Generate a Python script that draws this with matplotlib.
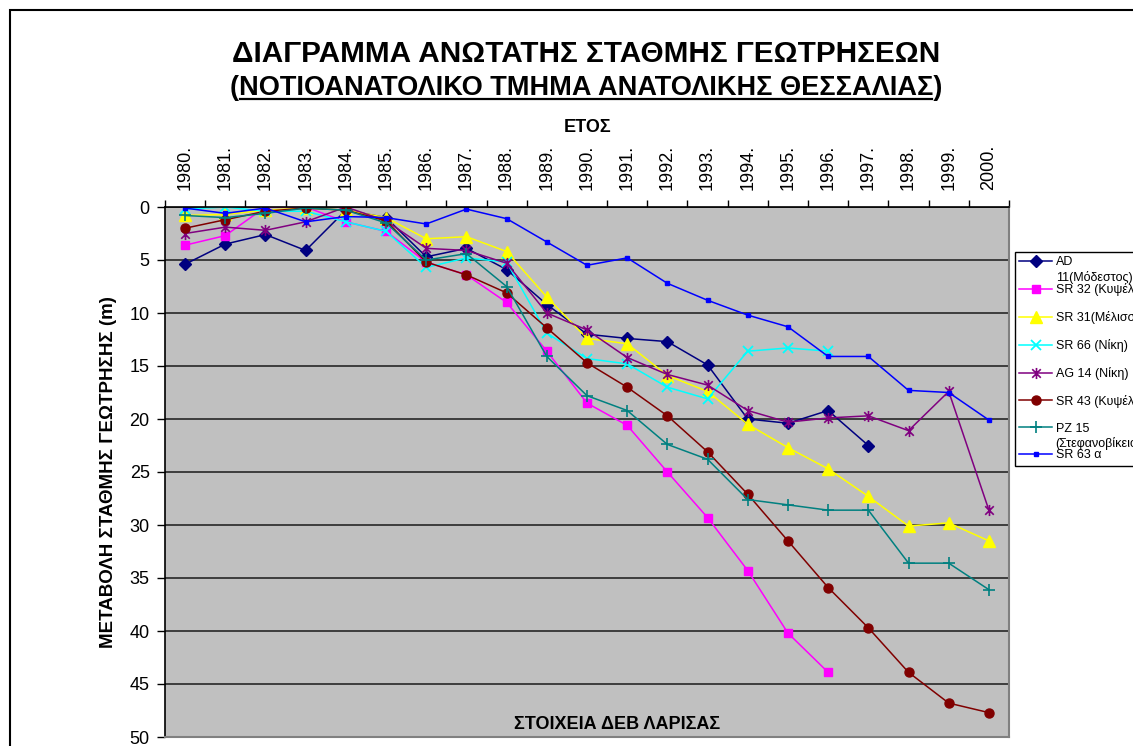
import numpy as np
import matplotlib
matplotlib.use("Agg")
import matplotlib.pyplot as plt
from matplotlib.path import Path
from matplotlib.lines import Line2D
from matplotlib.patches import Rectangle

plt.rcParams['font.family'] = ['Liberation Sans', 'DejaVu Sans']

nan = np.nan
years = [f"{y}." for y in range(1980, 2001)]

# depth change of groundwater level (m), one value per year 1980-2000
ad11 = [5.4, 3.5, 2.6, 4.1, 0.3, 1.0, 4.7, 3.9, 5.9, 9.2, 12.0, 12.4, 12.7, 14.9, 20.0, 20.4, 19.2, 22.5, nan, nan, nan]
sr32 = [3.6, 2.7, 0.0, 0.0, 1.4, 2.3, 5.2, 6.4, 9.0, 13.6, 18.5, 20.6, 25.0, 29.3, 34.3, 40.2, 43.9, nan, nan, nan, nan]
sr31 = [0.8, 0.7, 0.3, 0.1, 0.3, 1.0, 3.0, 2.8, 4.2, 8.5, 12.4, 12.9, 15.9, 17.4, 20.5, 22.7, 24.7, 27.3, 30.1, 29.8, 31.5]
sr66 = [0.2, 0.0, 0.4, 0.4, 1.4, 2.3, 5.7, 4.8, 5.2, 11.9, 14.3, 14.8, 17.0, 18.1, 13.6, 13.3, 13.6, nan, nan, nan, nan]
ag14 = [2.5, 1.9, 2.2, 1.4, 0.0, 1.3, 3.9, 4.1, 5.3, 10.0, 11.6, 14.2, 15.8, 16.8, 19.2, 20.3, 19.9, 19.7, 21.1, 17.4, 28.6]
sr43 = [2.0, 1.2, 0.4, 0.1, 0.3, 1.3, 5.2, 6.4, 8.1, 11.4, 14.7, 17.0, 19.7, 23.1, 27.1, 31.5, 35.9, 39.7, 43.9, 46.8, 47.7]
pz15 = [0.8, 1.0, 0.6, 0.1, 0.3, 1.5, 5.0, 4.4, 7.5, 14.1, 17.8, 19.2, 22.4, 23.8, 27.6, 28.1, 28.6, 28.6, 33.6, 33.6, 36.1]
sr63a = [0.1, 0.6, 0.1, 1.4, 0.9, 1.0, 1.6, 0.2, 1.1, 3.3, 5.5, 4.8, 7.2, 8.8, 10.2, 11.3, 14.1, 14.1, 17.3, 17.5, 20.1]

# legend text as wrapped in the original (first line, overflow line)
names = [("AD", "11(Μόδεστος)"), ("SR 32 (Κυψέλη)", ""), ("SR 31(Μέλισσα)", ""),
         ("SR 66 (Νίκη)", ""), ("AG 14 (Νίκη)", ""), ("SR 43 (Κυψέλη)", ""),
         ("PZ 15", "(Στεφανοβίκειο)"), ("SR 63 α", "")]

# excel style asterisk: x plus vertical bar
asterisk = Path([(-1, -1), (1, 1), (-1, 1), (1, -1), (0, -1.3), (0, 1.3)],
                [Path.MOVETO, Path.LINETO, Path.MOVETO, Path.LINETO, Path.MOVETO, Path.LINETO])

styles = [
    dict(color='#000080', marker='D', ms=6),
    dict(color='#FF00FF', marker='s', ms=6),
    dict(color='#FFFF00', marker='^', ms=8),
    dict(color='#00FFFF', marker='x', ms=7, mew=1.3),
    dict(color='#800080', marker=asterisk, ms=8, mew=1.2),
    dict(color='#800000', marker='o', ms=6.5),
    dict(color='#008080', marker='+', ms=8, mew=1.2),
    dict(color='#0000FF', marker='s', ms=3),
]
series = [ad11, sr32, sr31, sr66, ag14, sr43, pz15, sr63a]

W, H = 1133, 746
fig = plt.figure(figsize=(W / 100, H / 100), dpi=100)
ax = fig.add_axes([165 / W, 1 - 737 / H, 844 / W, 530 / H])
ax.set_facecolor('#C0C0C0')

x = np.arange(len(years))
handles = []
for vals, st, nm in zip(series, styles, names):
    h, = ax.plot(x, vals, lw=1.1, label=nm[0], **st)
    handles.append(h)

ax.set_xlim(-0.5, len(years) - 0.5)
ax.set_ylim(50, 0)
ax.set_yticks(np.arange(0, 51, 5))
ax.yaxis.grid(True, color='#333333', lw=1.3)
ax.set_axisbelow(True)

ax.set_xticks(np.arange(-0.5, len(years)), labels=[])
ax.set_xticks(x, minor=True)
ax.set_xticklabels(years, minor=True, rotation=90, fontsize=13)
ax.tick_params(which='both', top=True, bottom=False, labeltop=True, labelbottom=False)
ax.tick_params(axis='x', which='major', length=5, width=1, direction='out')
ax.tick_params(axis='x', which='minor', length=0, pad=12)
ax.tick_params(axis='y', length=6, width=1, labelsize=13, pad=5)

for s in ['right', 'bottom']:
    ax.spines[s].set_color('#808080')
    ax.spines[s].set_linewidth(1.5)
for s in ['top', 'left']:
    ax.spines[s].set_color('black')
    ax.spines[s].set_linewidth(1.2)

ax.set_ylabel('ΜΕΤΑΒΟΛΗ ΣΤΑΘΜΗΣ ΓΕΩΤΡΗΣΗΣ (m)', fontsize=13.5, fontweight='bold', labelpad=9)
ax.text(0.5355, 0.024, 'ΣΤΟΙΧΕΙΑ ΔΕΒ ΛΑΡΙΣΑΣ', transform=ax.transAxes, ha='center', va='center',
        fontsize=13, fontweight='bold')

# titles
fig.text(0.517, 1 - 61.5 / H, 'ΔΙΑΓΡΑΜΜΑ ΑΝΩΤΑΤΗΣ ΣΤΑΘΜΗΣ ΓΕΩΤΡΗΣΕΩΝ', ha='center', va='baseline',
         fontsize=21.4, fontweight='bold')
sub_y = 1 - 95 / H
sub = fig.text(0.517, sub_y, '(ΝΟΤΙΟΑΝΑΤΟΛΙΚΟ ΤΜΗΜΑ ΑΝΑΤΟΛΙΚΗΣ ΘΕΣΣΑΛΙΑΣ)', ha='center', va='baseline',
               fontsize=19.5, fontweight='bold')
fig.text(0.519, 1 - 132.5 / H, 'ΕΤΟΣ', ha='center', va='baseline', fontsize=13, fontweight='bold')

# legend
leg = fig.legend(handles=handles, loc='upper left', bbox_to_anchor=(1015 / W, 1 - 252 / H),
                 fontsize=9, frameon=True, fancybox=False, framealpha=1, edgecolor='black',
                 borderaxespad=0, borderpad=0.35, labelspacing=1.19, handlelength=2.6,
                 handletextpad=0.3)
leg.get_frame().set_linewidth(1.0)

# outer chart frame
fig.add_artist(Rectangle((10 / W, -0.5), 2, 1.5 - 10 / H, transform=fig.transFigure,
                         fill=False, ec='black', lw=1.5))

fig.canvas.draw()
r = fig.canvas.get_renderer()

# overflow lines of wrapped legend labels
for txt, nm in zip(leg.get_texts(), names):
    if nm[1]:
        ann = plt.Annotation(nm[1], xy=(0, 0), xycoords=txt, xytext=(0, -11),
                             textcoords='offset points', fontsize=9, va='bottom')
        ann.set_zorder(10)
        fig.add_artist(ann)

# underline of the subtitle, without the parentheses
bb = sub.get_window_extent(r)
tmp = fig.text(0, 0, '(', fontsize=19.5, fontweight='bold')
pw = tmp.get_window_extent(r).width
tmp.remove()
uy = sub_y * H - 4
fig.add_artist(Line2D([(bb.x0 + pw + 1) / W, (bb.x1 - pw - 1) / W], [uy / H, uy / H],
                      transform=fig.transFigure, color='black', lw=1.6))

fig.savefig('out.png', dpi=100)
